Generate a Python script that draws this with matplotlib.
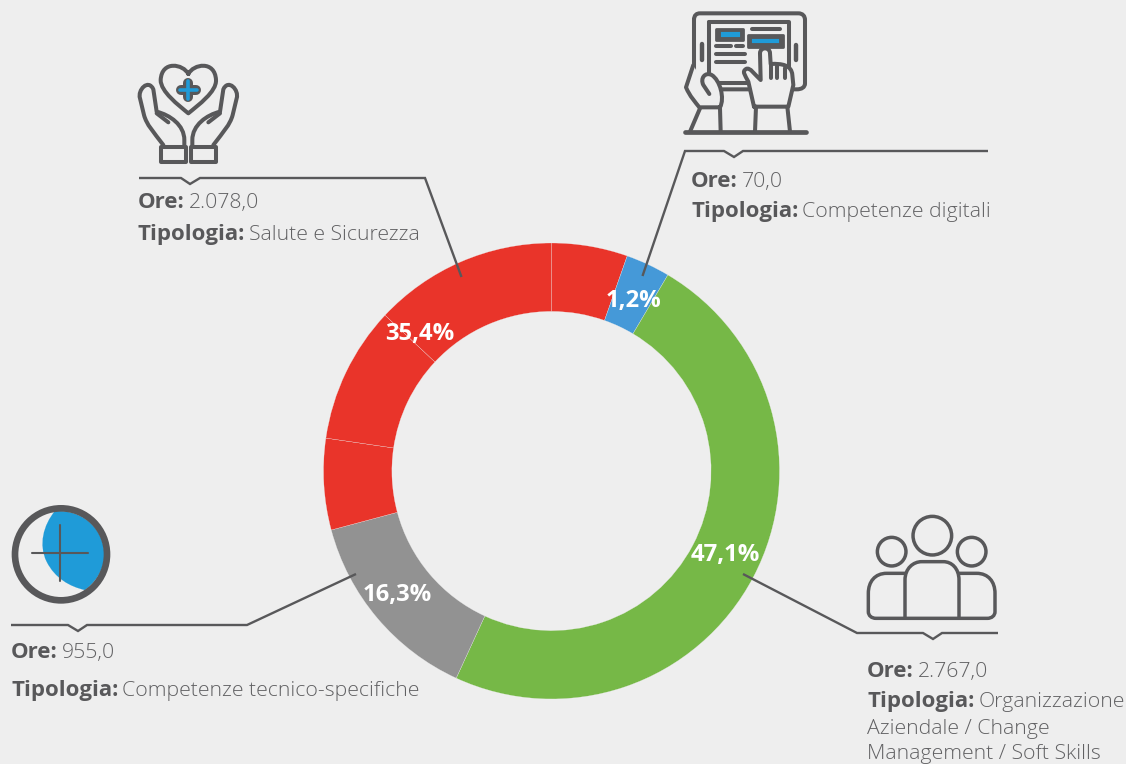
import matplotlib
matplotlib.use("Agg")
import matplotlib.pyplot as plt
from matplotlib.path import Path
from matplotlib.patches import PathPatch, Circle

# ring sectors as drawn, clockwise from 12 o'clock (degrees)
sector_sizes = [19.4, 11.3, 174.0, 50.3, 23.3, 34.8, 46.9]
sector_colors = ["#e9342a", "#4599d8", "#76b847", "#929292", "#e9342a", "#e9342a", "#e9342a"]

pct_labels = ["35,4%", "1,2%", "16,3%", "47,1%"]
ore_labels = ["2.078,0", "70,0", "955,0", "2.767,0"]
tipologia = ["Salute e Sicurezza", "Competenze digitali", "Competenze tecnico-specifiche", "Organizzazione"]

BG = "#eeeeee"
DARK = "#58585a"
TXT = "#616163"
BLUE = "#1f9bd8"
FONT = "Open Sans"
W, H = 1126, 764
CX, CY, R = 551.5, 471, 228

fig = plt.figure(figsize=(W / 100, H / 100), dpi=100, facecolor=BG)

# donut
ax_pie = fig.add_axes([(CX - R) / W, 1 - (CY + R) / H, 2 * R / W, 2 * R / H])
ax_pie.pie(sector_sizes, colors=sector_colors, startangle=90, counterclock=False, radius=1,
           wedgeprops=dict(width=0.3, edgecolor=BG, linewidth=0.18))
ax_pie.set_xlim(-1, 1)
ax_pie.set_ylim(-1, 1)

# overlay in pixel coordinates
ax = fig.add_axes([0, 0, 1, 1])
ax.set_xlim(0, W)
ax.set_ylim(H, 0)
ax.axis("off")


def leader(pts):
    xs, ys = zip(*pts)
    ax.plot(xs, ys, color=DARK, lw=1.7, solid_joinstyle="miter", solid_capstyle="butt", zorder=3)


leader([(139, 178), (181, 178), (190, 184), (200, 178), (425, 178), (461.5, 277)])
leader([(988, 151), (743, 151), (734, 157), (724, 151), (685, 151), (642.5, 276)])
leader([(11, 625), (68, 625), (78, 631), (87, 625), (247, 625), (356, 574)])
leader([(998, 633), (942, 633), (933, 639), (923, 633), (857, 633), (743, 574)])


def info(x, y, bold, regular):
    t = ax.text(x, y, bold, family=FONT, fontsize=16, fontweight="bold", color=DARK, va="baseline")
    w = t.get_window_extent(fig.canvas.get_renderer()).width
    ax.text(x + w + 4, y, regular, family=FONT, fontsize=15.3, fontweight="light", color=TXT, va="baseline")


info(138, 208, "Ore:", ore_labels[0])
info(138, 240, "Tipologia:", tipologia[0])
info(691, 187, "Ore:", ore_labels[1])
info(691, 217, "Tipologia:", tipologia[1])
info(11, 658, "Ore:", ore_labels[2])
info(11, 696, "Tipologia:", tipologia[2])
info(867, 677, "Ore:", ore_labels[3])
info(867, 707, "Tipologia:", tipologia[3])
ax.text(867, 734, "Aziendale / Change", family=FONT, fontsize=15.3, fontweight="light", color=TXT)
ax.text(867, 759, "Management / Soft Skills", family=FONT, fontsize=15.3, fontweight="light", color=TXT)

for (x, y), s in zip([(420, 340), (634, 307), (397, 601), (725, 561)], pct_labels):
    ax.text(x, y, s, family=FONT, fontsize=17.2, fontweight="bold", color="white", ha="center", va="baseline", zorder=4)


# icons, given in 3x crop coordinates
def mapper(ox, oy):
    return lambda p: (ox + p[0] / 3, oy + p[1] / 3)


def poly(m, pts, lw=2.9, fill=None, close=False, color=DARK, z=5):
    pts = [m(p) for p in pts]
    codes = [Path.MOVETO] + [Path.LINETO] * (len(pts) - 1)
    if close:
        pts.append(pts[0])
        codes.append(Path.CLOSEPOLY)
    ax.add_patch(PathPatch(Path(pts, codes), fc=fill if fill else "none", ec=color, lw=lw,
                           capstyle="round", joinstyle="round", zorder=z))


def curve(m, start, segs, lw=2.9, fill=None, color=DARK, z=5):
    verts = [m(start)]
    codes = [Path.MOVETO]
    for s in segs:
        verts += [m(p) for p in s]
        codes += [Path.CURVE4] * 3 if len(s) == 3 else [Path.LINETO]
    ax.add_patch(PathPatch(Path(verts, codes), fc=fill if fill else "none", ec=color, lw=lw,
                           capstyle="round", joinstyle="round", zorder=z))


# caring hands
m = mapper(120, 60)
curve(m, (205, 42), [[(190, 12), (125, 0), (122, 60)], [(122, 95), (175, 135), (205, 160)],
                     [(235, 135), (290, 95), (288, 60)], [(285, 0), (220, 12), (205, 42)]])
poly(m, [(205, 68), (205, 112)], lw=7.2)
poly(m, [(183, 90), (227, 90)], lw=7.2)
poly(m, [(205, 64), (205, 116)], lw=2.6, color=BLUE, z=6)
poly(m, [(179, 90), (231, 90)], lw=2.6, color=BLUE, z=6)
for mirror in (False, True):
    f = (lambda p: (410 - p[0], p[1])) if mirror else (lambda p: p)
    curve(m, f((130, 255)), [[f((100, 215)), f((80, 195)), f((72, 165))], [f((60, 115))],
                             [f((52, 90)), f((85, 55)), f((100, 88))], [f((110, 155))],
                             [f((150, 165)), f((193, 195)), f((193, 240))], [f((193, 258))]])
    poly(m, [f(p) for p in [(110, 160), (145, 187)]])
    poly(m, [f(p) for p in [(122, 262), (197, 262), (197, 305), (122, 305)]], close=True)

# tablet with hands
m = mapper(670, 0)
curve(m, (72, 60), [[(72, 45), (80, 40), (90, 40)], [(385, 40)], [(398, 40), (405, 48), (405, 60)],
                    [(405, 250)], [(405, 262), (395, 268), (380, 268)], [(90, 268)],
                    [(80, 268), (72, 260), (72, 250)], [(72, 60)]])
poly(m, [(118, 65), (358, 65), (358, 205)])
poly(m, [(118, 65), (118, 250), (235, 250)])
poly(m, [(97, 132), (97, 180)], lw=3.2)
poly(m, [(378, 135), (378, 180)], lw=3.2)
poly(m, [(137, 87), (220, 87), (220, 120), (137, 120)], lw=2, fill=DARK, close=True)
poly(m, [(152, 97), (210, 97), (210, 111), (152, 111)], lw=0.1, fill=BLUE, close=True, color=BLUE, z=6)
poly(m, [(234, 104), (338, 104), (338, 140), (234, 140)], lw=2, fill=DARK, close=True)
poly(m, [(245, 116), (327, 116), (327, 130), (245, 130)], lw=0.1, fill=BLUE, close=True, color=BLUE, z=6)
poly(m, [(245, 88), (330, 88)])
poly(m, [(138, 137), (184, 137)])
poly(m, [(198, 137), (220, 137)])
poly(m, [(138, 162), (224, 162)])
poly(m, [(138, 186), (224, 186)])
curve(m, (70, 195), [[(48, 262)], [(60, 290), (75, 305), (88, 322)], [(150, 322)],
                     [(165, 295), (150, 240), (125, 225)], [(105, 215), (90, 235), (100, 255)], [(118, 282)]],
      fill=BG, z=6)
poly(m, [(90, 325), (60, 395)], z=6)
poly(m, [(150, 325), (152, 395)], z=6)
curve(m, (252, 320), [[(235, 245)], [(225, 225), (215, 215), (228, 207)], [(240, 200), (255, 225), (272, 240)],
                      [(270, 160)], [(270, 140), (300, 140), (300, 160)], [(302, 192)], [(335, 190), (365, 195), (367, 225)],
                      [(370, 255)], [(355, 320)], [(252, 320)]], fill=BG, z=6)
poly(m, [(302, 192), (302, 235)], z=7)
poly(m, [(322, 198), (322, 235)], z=7)
poly(m, [(345, 205), (345, 235)], z=7)
poly(m, [(258, 320), (255, 395)], z=6)
poly(m, [(352, 320), (360, 395)], z=6)
poly(m, [(45, 395), (408, 395)], lw=3.4, z=7)

# compass
m = mapper(0, 495)
curve(m, (165, 48), [[(130, 90), (115, 150), (140, 200)], [(165, 250), (210, 275), (255, 285)],
                     [(300, 250), (318, 205), (312, 165)], [(305, 100), (250, 45), (165, 48)]],
      lw=0.1, fill=BLUE, color=BLUE)
ax.add_patch(Circle(m((183, 178)), 46, fc="none", ec=DARK, lw=4.8, zorder=6))
poly(m, [(97, 173), (265, 173)], lw=1.5, z=6)
poly(m, [(181, 90), (181, 258)], lw=1.5, z=6)

# people
m = mapper(840, 505)
ax.add_patch(Circle(m((277, 92)), 19.3, fc="none", ec=DARK, lw=2.5, zorder=5))
ax.add_patch(Circle(m((155, 140)), 14.3, fc="none", ec=DARK, lw=2.5, zorder=5))
ax.add_patch(Circle(m((395, 140)), 14.3, fc="none", ec=DARK, lw=2.5, zorder=5))
curve(m, (195, 340), [[(195, 225)], [(195, 190), (220, 170), (245, 170)], [(310, 170)],
                      [(335, 170), (357, 190), (357, 225)], [(357, 340)]], lw=2.5)
curve(m, (195, 205), [[(140, 205)], [(105, 205), (85, 230), (85, 265)], [(85, 320)],
                      [(85, 332), (95, 340), (108, 340)], [(442, 340)], [(455, 340), (465, 332), (465, 320)],
                      [(465, 265)], [(465, 230), (445, 205), (410, 205)], [(357, 205)]], lw=2.5)

fig.savefig("out.png", dpi=100, facecolor=BG)
